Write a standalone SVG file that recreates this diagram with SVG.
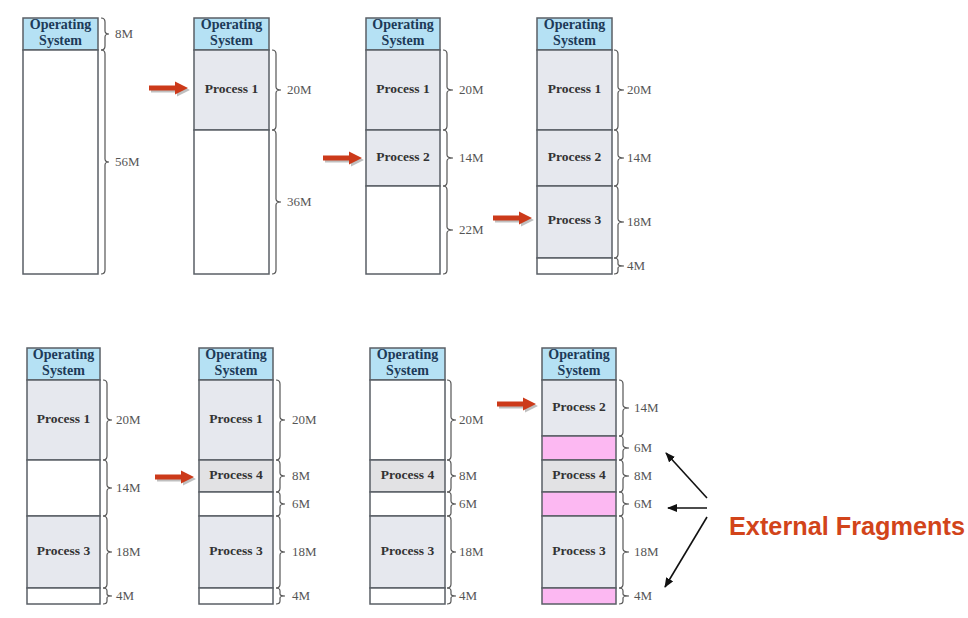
<svg xmlns="http://www.w3.org/2000/svg" width="968" height="618" viewBox="0 0 968 618">
<style>
.os{fill:#b5e1f4;stroke:#5a5f66;stroke-width:1.5}
.pr{fill:#e6e8ee;stroke:#5a5f66;stroke-width:1.5}
.p4{fill:#e2e2e4;stroke:#5a5f66;stroke-width:1.5}
.fr{fill:#ffffff;stroke:#5a5f66;stroke-width:1.5}
.pk{fill:#fcb8f2;stroke:#5a5f66;stroke-width:1.5}
.ost{font-family:"Liberation Serif",serif;font-weight:bold;font-size:14px;fill:#1d3a58;text-anchor:middle}
.pt{font-family:"Liberation Serif",serif;font-weight:bold;font-size:13.5px;fill:#333;text-anchor:middle}
.sz{font-family:"Liberation Serif",serif;font-size:13px;fill:#555}
.br{fill:none;stroke:#555;stroke-width:1.2}
.blk{stroke:#111;stroke-width:1.6;fill:none;marker-end:url(#ah)}
.ef{font-family:"Liberation Sans",Arial,sans-serif;font-weight:bold;font-size:25px;fill:#d2441a}
</style>
<defs>
<marker id="ah" markerWidth="10" markerHeight="8" refX="9" refY="4" orient="auto" markerUnits="userSpaceOnUse">
<path d="M0,0 L10,4 L0,8 Z" fill="#111"/>
</marker>
<path id="ra" d="M0,-2.5 L26,-2.5 L26,-6.5 L39,0 L26,6.5 L26,2.5 L0,2.5 Z"/>
</defs>

<g id="col1">
<rect class="os" x="23" y="18" width="75" height="32"/>
<rect class="fr" x="23" y="50" width="75" height="224"/>
<text class="ost" x="60.5" y="29">Operating</text><text class="ost" x="60.5" y="45">System</text>
<path class="br" d="M101 18 Q105 18 105 22 L105 31 Q105 34 109 34 Q105 34 105 37 L105 46 Q105 50 101 50"/>
<text class="sz" x="115" y="38">8M</text>
<path class="br" d="M101 50 Q105 50 105 54 L105 159 Q105 162 109 162 Q105 162 105 165 L105 270 Q105 274 101 274"/>
<text class="sz" x="115" y="166">56M</text>
</g>

<g id="col2">
<rect class="os" x="194" y="18" width="75" height="32"/>
<rect class="pr" x="194" y="50" width="75" height="80"/>
<rect class="fr" x="194" y="130" width="75" height="144"/>
<text class="ost" x="231.5" y="29">Operating</text><text class="ost" x="231.5" y="45">System</text>
<text class="pt" x="231.5" y="93">Process 1</text>
<path class="br" d="M272 50 Q276 50 276 54 L276 87 Q276 90 281 90 Q276 90 276 93 L276 126 Q276 130 272 130"/>
<text class="sz" x="287" y="94">20M</text>
<path class="br" d="M272 130 Q276 130 276 134 L276 199 Q276 202 281 202 Q276 202 276 205 L276 270 Q276 274 272 274"/>
<text class="sz" x="287" y="206">36M</text>
</g>

<g id="col3">
<rect class="os" x="366" y="18" width="74" height="32"/>
<rect class="pr" x="366" y="50" width="74" height="80"/>
<rect class="pr" x="366" y="130" width="74" height="56"/>
<rect class="fr" x="366" y="186" width="74" height="88"/>
<text class="ost" x="403" y="29">Operating</text><text class="ost" x="403" y="45">System</text>
<text class="pt" x="403" y="93">Process 1</text>
<text class="pt" x="403" y="161">Process 2</text>
<path class="br" d="M443 50 Q447 50 447 54 L447 87 Q447 90 453 90 Q447 90 447 93 L447 126 Q447 130 443 130"/>
<text class="sz" x="459" y="94">20M</text>
<path class="br" d="M443 130 Q447 130 447 134 L447 155 Q447 158 453 158 Q447 158 447 161 L447 182 Q447 186 443 186"/>
<text class="sz" x="459" y="162">14M</text>
<path class="br" d="M443 186 Q447 186 447 190 L447 227 Q447 230 453 230 Q447 230 447 233 L447 270 Q447 274 443 274"/>
<text class="sz" x="459" y="234">22M</text>
</g>

<g id="col4">
<rect class="os" x="537" y="18" width="75" height="32"/>
<rect class="pr" x="537" y="50" width="75" height="80"/>
<rect class="pr" x="537" y="130" width="75" height="56"/>
<rect class="pr" x="537" y="186" width="75" height="72"/>
<rect class="fr" x="537" y="258" width="75" height="16"/>
<text class="ost" x="574.5" y="29">Operating</text><text class="ost" x="574.5" y="45">System</text>
<text class="pt" x="574.5" y="93">Process 1</text>
<text class="pt" x="574.5" y="161">Process 2</text>
<text class="pt" x="574.5" y="224">Process 3</text>
<path class="br" d="M614 50 Q618 50 618 54 L618 87 Q618 90 624 90 Q618 90 618 93 L618 126 Q618 130 614 130"/>
<text class="sz" x="627" y="94">20M</text>
<path class="br" d="M614 130 Q618 130 618 134 L618 155 Q618 158 624 158 Q618 158 618 161 L618 182 Q618 186 614 186"/>
<text class="sz" x="627" y="162">14M</text>
<path class="br" d="M614 186 Q618 186 618 190 L618 219 Q618 222 624 222 Q618 222 618 225 L618 254 Q618 258 614 258"/>
<text class="sz" x="627" y="226">18M</text>
<path class="br" d="M614 258 Q618 258 618 261 L618 264 Q618 266 624 266 Q618 266 618 268 L618 271 Q618 274 614 274"/>
<text class="sz" x="627" y="270">4M</text>
</g>

<g id="col5">
<rect class="os" x="27" y="348" width="73" height="32"/>
<rect class="pr" x="27" y="380" width="73" height="80"/>
<rect class="fr" x="27" y="460" width="73" height="56"/>
<rect class="pr" x="27" y="516" width="73" height="72"/>
<rect class="fr" x="27" y="588" width="73" height="16"/>
<text class="ost" x="63.5" y="359">Operating</text><text class="ost" x="63.5" y="375">System</text>
<text class="pt" x="63.5" y="423">Process 1</text>
<text class="pt" x="63.5" y="555">Process 3</text>
<path class="br" d="M103 380 Q107 380 107 384 L107 417 Q107 420 112 420 Q107 420 107 423 L107 456 Q107 460 103 460"/>
<text class="sz" x="116" y="424">20M</text>
<path class="br" d="M103 460 Q107 460 107 464 L107 485 Q107 488 112 488 Q107 488 107 491 L107 512 Q107 516 103 516"/>
<text class="sz" x="116" y="492">14M</text>
<path class="br" d="M103 516 Q107 516 107 520 L107 549 Q107 552 112 552 Q107 552 107 555 L107 584 Q107 588 103 588"/>
<text class="sz" x="116" y="556">18M</text>
<path class="br" d="M103 588 Q107 588 107 591 L107 594 Q107 596 112 596 Q107 596 107 598 L107 601 Q107 604 103 604"/>
<text class="sz" x="116" y="600">4M</text>
</g>

<g id="col6">
<rect class="os" x="199" y="348" width="74" height="32"/>
<rect class="pr" x="199" y="380" width="74" height="80"/>
<rect class="p4" x="199" y="460" width="74" height="32"/>
<rect class="fr" x="199" y="492" width="74" height="24"/>
<rect class="pr" x="199" y="516" width="74" height="72"/>
<rect class="fr" x="199" y="588" width="74" height="16"/>
<text class="ost" x="236" y="359">Operating</text><text class="ost" x="236" y="375">System</text>
<text class="pt" x="236" y="423">Process 1</text>
<text class="pt" x="236" y="479">Process 4</text>
<text class="pt" x="236" y="555">Process 3</text>
<path class="br" d="M276 380 Q280 380 280 384 L280 417 Q280 420 285 420 Q280 420 280 423 L280 456 Q280 460 276 460"/>
<text class="sz" x="292" y="424">20M</text>
<path class="br" d="M276 460 Q280 460 280 464 L280 473 Q280 476 285 476 Q280 476 280 479 L280 488 Q280 492 276 492"/>
<text class="sz" x="292" y="480">8M</text>
<path class="br" d="M276 492 Q280 492 280 495 L280 501 Q280 504 285 504 Q280 504 280 507 L280 513 Q280 516 276 516"/>
<text class="sz" x="292" y="508">6M</text>
<path class="br" d="M276 516 Q280 516 280 520 L280 549 Q280 552 285 552 Q280 552 280 555 L280 584 Q280 588 276 588"/>
<text class="sz" x="292" y="556">18M</text>
<path class="br" d="M276 588 Q280 588 280 591 L280 594 Q280 596 285 596 Q280 596 280 598 L280 601 Q280 604 276 604"/>
<text class="sz" x="292" y="600">4M</text>
</g>

<g id="col7">
<rect class="os" x="370" y="348" width="75" height="32"/>
<rect class="fr" x="370" y="380" width="75" height="80"/>
<rect class="p4" x="370" y="460" width="75" height="32"/>
<rect class="fr" x="370" y="492" width="75" height="24"/>
<rect class="pr" x="370" y="516" width="75" height="72"/>
<rect class="fr" x="370" y="588" width="75" height="16"/>
<text class="ost" x="407.5" y="359">Operating</text><text class="ost" x="407.5" y="375">System</text>
<text class="pt" x="407.5" y="479">Process 4</text>
<text class="pt" x="407.5" y="555">Process 3</text>
<path class="br" d="M447 380 Q451 380 451 384 L451 417 Q451 420 456 420 Q451 420 451 423 L451 456 Q451 460 447 460"/>
<text class="sz" x="459" y="424">20M</text>
<path class="br" d="M447 460 Q451 460 451 464 L451 473 Q451 476 456 476 Q451 476 451 479 L451 488 Q451 492 447 492"/>
<text class="sz" x="459" y="480">8M</text>
<path class="br" d="M447 492 Q451 492 451 495 L451 501 Q451 504 456 504 Q451 504 451 507 L451 513 Q451 516 447 516"/>
<text class="sz" x="459" y="508">6M</text>
<path class="br" d="M447 516 Q451 516 451 520 L451 549 Q451 552 456 552 Q451 552 451 555 L451 584 Q451 588 447 588"/>
<text class="sz" x="459" y="556">18M</text>
<path class="br" d="M447 588 Q451 588 451 591 L451 594 Q451 596 456 596 Q451 596 451 598 L451 601 Q451 604 447 604"/>
<text class="sz" x="459" y="600">4M</text>
</g>

<g id="col8">
<rect class="os" x="542" y="348" width="74" height="32"/>
<rect class="pr" x="542" y="380" width="74" height="56"/>
<rect class="pk" x="542" y="436" width="74" height="24"/>
<rect class="p4" x="542" y="460" width="74" height="32"/>
<rect class="pk" x="542" y="492" width="74" height="24"/>
<rect class="pr" x="542" y="516" width="74" height="72"/>
<rect class="pk" x="542" y="588" width="74" height="16"/>
<text class="ost" x="579" y="359">Operating</text><text class="ost" x="579" y="375">System</text>
<text class="pt" x="579" y="411">Process 2</text>
<text class="pt" x="579" y="479">Process 4</text>
<text class="pt" x="579" y="555">Process 3</text>
<path class="br" d="M619 380 Q623 380 623 384 L623 405 Q623 408 629 408 Q623 408 623 411 L623 432 Q623 436 619 436"/>
<text class="sz" x="634" y="412">14M</text>
<path class="br" d="M619 436 Q623 436 623 439 L623 445 Q623 448 629 448 Q623 448 623 451 L623 457 Q623 460 619 460"/>
<text class="sz" x="634" y="452">6M</text>
<path class="br" d="M619 460 Q623 460 623 464 L623 473 Q623 476 629 476 Q623 476 623 479 L623 488 Q623 492 619 492"/>
<text class="sz" x="634" y="480">8M</text>
<path class="br" d="M619 492 Q623 492 623 495 L623 501 Q623 504 629 504 Q623 504 623 507 L623 513 Q623 516 619 516"/>
<text class="sz" x="634" y="508">6M</text>
<path class="br" d="M619 516 Q623 516 623 520 L623 549 Q623 552 629 552 Q623 552 623 555 L623 584 Q623 588 619 588"/>
<text class="sz" x="634" y="556">18M</text>
<path class="br" d="M619 588 Q623 588 623 591 L623 594 Q623 596 629 596 Q623 596 623 598 L623 601 Q623 604 619 604"/>
<text class="sz" x="634" y="600">4M</text>
</g>

<g id="connectors">
<g fill="#8a8a8a" opacity="0.55">
<use href="#ra" x="151" y="90"/>
<use href="#ra" x="325" y="160"/>
<use href="#ra" x="495" y="220"/>
<use href="#ra" x="157" y="479"/>
<use href="#ra" x="499" y="406"/>
</g>
<g fill="#cc3a1a">
<use href="#ra" x="149" y="88"/>
<use href="#ra" x="323" y="158"/>
<use href="#ra" x="493" y="218"/>
<use href="#ra" x="155" y="477"/>
<use href="#ra" x="497" y="404"/>
</g>
<line class="blk" x1="707" y1="498" x2="666" y2="453"/>
<line class="blk" x1="707" y1="508" x2="668" y2="508"/>
<line class="blk" x1="707" y1="517" x2="665" y2="587"/>
</g>

<g id="label">
<text class="ef" x="729" y="535" textLength="236" lengthAdjust="spacingAndGlyphs">External Fragments</text>
</g>
</svg>
